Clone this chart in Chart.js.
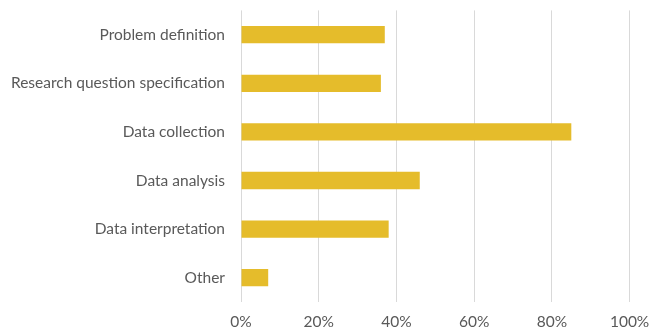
<!DOCTYPE html>
<html>
<head>
<meta charset="utf-8">
<script src="https://cdn.jsdelivr.net/npm/chart.js@4"></script>
<style>
html,body{margin:0;padding:0;background:#fff;}
#wrap{width:649px;height:331px;position:relative;}
</style>
</head>
<body>
<div id="wrap"><canvas id="c"></canvas></div>
<script>
const categories = ["Problem definition", "Research question specification", "Data collection", "Data analysis", "Data interpretation", "Other"];
const values = [37, 36, 85, 46, 38, 7];
const xTicks = [0, 20, 40, 60, 80, 100];

const FONT = "Lato";
new Chart(document.getElementById('c'), {
  type: 'bar',
  data: {
    labels: categories,
    datasets: [{
      data: values,
      backgroundColor: '#E5BC2B',
      borderWidth: 0,
      barPercentage: 1,
      categoryPercentage: 0.356
    }]
  },
  options: {
    indexAxis: 'y',
    responsive: true,
    maintainAspectRatio: false,
    animation: false,
    layout: { padding: { left: 0, right: 19.4, top: 10.4, bottom: 0 } },
    plugins: { legend: { display: false }, tooltip: { enabled: false } },
    scales: {
      x: {
        min: 0, max: 100,
        afterBuildTicks: s => { s.ticks = xTicks.map(v => ({ value: v })); },
        ticks: { callback: v => v + '%', color: '#595959', font: { family: FONT, size: 15.5 }, padding: 11, maxRotation: 0 },
        grid: { color: '#D9D9D9', lineWidth: 1, drawTicks: false },
        border: { display: false },
        afterFit: s => { s.height = 29; s.paddingLeft = 0; s.paddingRight = 0; }
      },
      y: {
        ticks: { color: '#595959', font: { family: FONT, size: 15.5 }, padding: 16 },
        grid: { display: false, drawTicks: false },
        border: { display: false },
        afterFit: s => { s.width = 241; s.paddingTop = 0; s.paddingBottom = 0; }
      }
    }
  }
});
</script>
</body>
</html>
